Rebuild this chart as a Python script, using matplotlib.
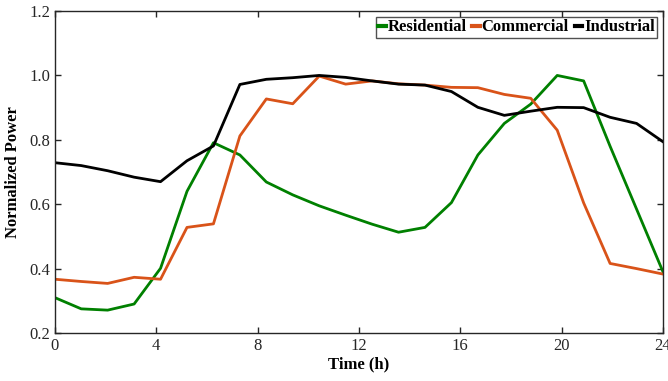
import numpy as np
import matplotlib.pyplot as plt

#-------------------------------------------------------------
# Data
#-------------------------------------------------------------
n_points = 24
time_h = np.linspace(0, 24, n_points)

residential = [0.31, 0.275, 0.271, 0.29, 0.401, 0.64, 0.791, 0.753, 0.669, 0.629,
               0.595, 0.566, 0.538, 0.513, 0.528, 0.605, 0.753, 0.851, 0.911, 1.0,
               0.983, 0.78, 0.585, 0.39]
commercial = [0.367, 0.36, 0.354, 0.373, 0.367, 0.528, 0.539, 0.812, 0.927, 0.912,
              0.998, 0.973, 0.983, 0.974, 0.97, 0.963, 0.962, 0.941, 0.929, 0.83,
              0.604, 0.416, 0.40, 0.383]
industrial = [0.729, 0.72, 0.704, 0.684, 0.67, 0.735, 0.781, 0.972, 0.988, 0.993,
              1.0, 0.994, 0.983, 0.973, 0.97, 0.95, 0.901, 0.876, 0.889, 0.901,
              0.9, 0.87, 0.851, 0.794]

x_ticks = [0, 4, 8, 12, 16, 20, 24]
y_ticks = [0.2, 0.4, 0.6, 0.8, 1.0, 1.2]

#-------------------------------------------------------------
# Plot
#-------------------------------------------------------------
plt.rcParams['font.family'] = ['Liberation Serif', 'DejaVu Serif']

fig = plt.figure(figsize=(6.68, 3.81), dpi=100)
ax = fig.add_axes([0.082, 0.126, 0.9105, 0.845])

ax.plot(time_h, residential, color='#008000', lw=2, label='Residential')
ax.plot(time_h, commercial, color='#D95319', lw=2, label='Commercial')
ax.plot(time_h, industrial, color='black', lw=2, label='Industrial')

ax.set_xlim(0, 24)
ax.set_ylim(0.2, 1.2)
ax.set_xticks(x_ticks)
ax.set_yticks(y_ticks)
ax.set_yticklabels(['%.1f' % v for v in y_ticks])
ax.tick_params(direction='in', top=True, right=True, labelsize=12,
               colors='#262626', length=4, width=1)
for s in ax.spines.values():
    s.set_color('#262626')
    s.set_linewidth(1)

ax.set_xlabel('Time (h)', fontsize=12, fontweight='bold', labelpad=2)
ax.set_ylabel('Normalized Power', fontsize=12, fontweight='bold', labelpad=6)

leg = ax.legend(loc='upper right', ncol=3, frameon=True,
                fancybox=False, handlelength=0.45, handletextpad=0.1,
                columnspacing=0.35, borderpad=0.15, borderaxespad=0.35,
                prop={'weight': 'bold', 'size': 12})
leg.get_frame().set_edgecolor('#262626')
leg.get_frame().set_linewidth(1)
for line in leg.get_lines():
    line.set_linewidth(3)

plt.savefig('out.png', dpi=100)
